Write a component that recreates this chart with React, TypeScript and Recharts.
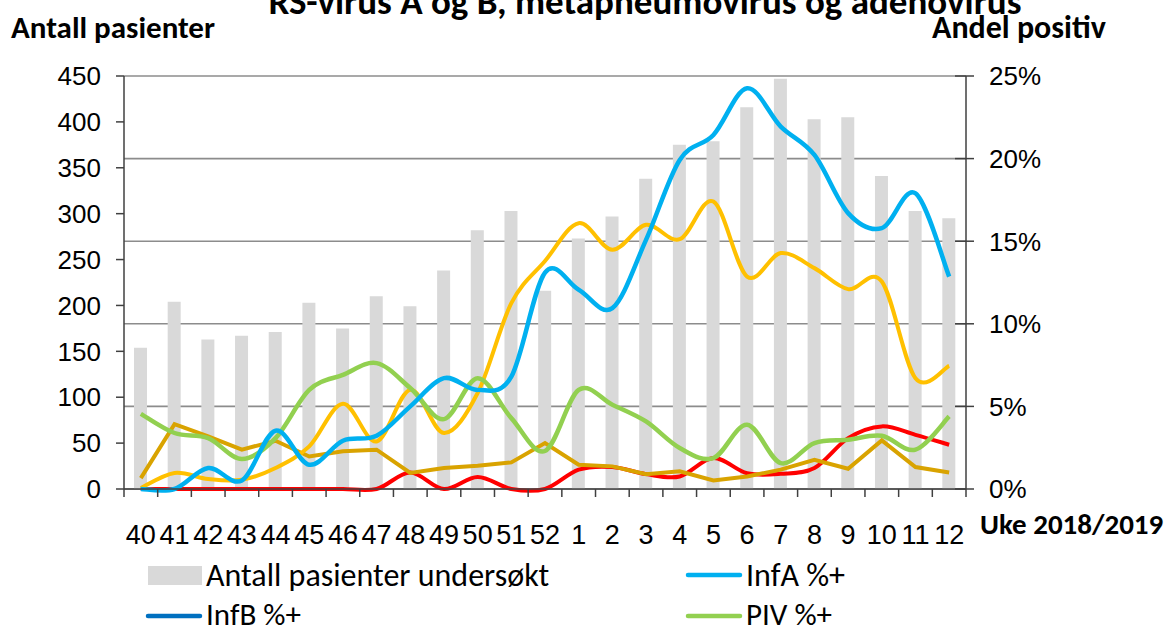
import React from "react";
import { ComposedChart, Bar, Line, XAxis, YAxis, CartesianGrid } from "recharts";

const weeks = ["40", "41", "42", "43", "44", "45", "46", "47", "48", "49", "50", "51", "52", "1", "2", "3", "4", "5", "6", "7", "8", "9", "10", "11", "12"];
const patients = [154, 204, 163, 167, 171, 203, 175, 210, 199, 238, 282, 303, 216, 273, 297, 338, 375, 379, 416, 447, 403, 405, 341, 303, 295];
const infA = [0, 0, 1.27, 0.52, 3.53, 1.47, 2.92, 3.22, 5.0, 6.71, 6.0, 6.8, 13.1, 12.06, 10.95, 15.08, 19.92, 21.43, 24.26, 21.94, 20.22, 16.7, 15.79, 17.9, 12.86];
const infB = [0, 0, 0, null, null, null, null, null, null, null, null, null, null, null, null, null, null, null, null, null, null, null, null, null, null];
const piv = [4.55, 3.39, 3.08, 1.81, 3.08, 6.0, 6.91, 7.62, 6.11, 4.23, 6.71, 4.29, 2.3, 6.0, 5.1, 4.09, 2.48, 1.87, 3.89, 1.57, 2.78, 2.98, 3.22, 2.38, 4.39];
const adeno = [0, 0, 0, 0, 0, 0, 0, 0, 1.0, 0, 0.73, 0, 0, 1.17, 1.33, 0.9, 0.76, 1.87, 0.95, 0.92, 1.27, 3.08, 3.79, 3.28, 2.68];
const rsv = [0.06, 0.97, 0.6, 0.56, 1.27, 2.58, 5.16, 2.88, 6.0, 3.39, 5.81, 11.25, 13.8, 16.09, 14.48, 15.99, 15.12, 17.4, 12.86, 14.28, 13.37, 12.1, 12.56, 6.71, 7.46];
const hmpv = [0.66, 3.93, 3.18, 2.38, 2.92, 1.97, 2.28, 2.38, 0.97, 1.27, 1.41, 1.61, 2.78, 1.47, 1.37, 0.9, 1.07, 0.52, 0.76, 1.17, 1.77, 1.23, 2.94, 1.33, 1.0];

const leftTicks = [0, 50, 100, 150, 200, 250, 300, 350, 400, 450];
const rightTicks = [0, 5, 10, 15, 20, 25];

const data = weeks.map((w, i) => ({
  week: w,
  patients: patients[i],
  infA: infA[i],
  infB: infB[i],
  piv: piv[i],
  adeno: adeno[i],
  rsv: rsv[i],
  hmpv: hmpv[i],
}));

// Excel-style smoothed line (Catmull-Rom through the points)
const excelSmooth = (context: any) => {
  let pts: number[][] = [];
  return {
    areaStart() {},
    areaEnd() {},
    lineStart() {
      pts = [];
    },
    point(x: number, y: number) {
      pts.push([+x, +y]);
    },
    lineEnd() {
      if (!pts.length) return;
      context.moveTo(pts[0][0], pts[0][1]);
      for (let i = 0; i < pts.length - 1; i++) {
        const p0 = pts[i - 1] || pts[i];
        const p1 = pts[i];
        const p2 = pts[i + 1];
        const p3 = pts[i + 2] || p2;
        context.bezierCurveTo(
          p1[0] + (p2[0] - p0[0]) / 6,
          p1[1] + (p2[1] - p0[1]) / 6,
          p2[0] - (p3[0] - p1[0]) / 6,
          p2[1] - (p3[1] - p1[1]) / 6,
          p2[0],
          p2[1]
        );
      }
    },
  };
};

const AXIS = "#404040";
const ARIAL = "'Liberation Sans', Arial, sans-serif";
const CALIBRI = "Carlito, Lato, sans-serif";
const HALF_BAND = 842 / weeks.length / 2;

function WeekTick({ x, y, payload, index }: any) {
  return (
    <g>
      <line x1={x - HALF_BAND} x2={x - HALF_BAND} y1={y} y2={y + 8} stroke={AXIS} strokeWidth={1.5} />
      {index === weeks.length - 1 && (
        <line x1={x + HALF_BAND} x2={x + HALF_BAND} y1={y} y2={y + 8} stroke={AXIS} strokeWidth={1.5} />
      )}
      <text x={x} y={y + 55} textAnchor="middle" fontFamily={ARIAL} fontSize={27} fill="#000">
        {payload.value}
      </text>
    </g>
  );
}

function PctTick({ x, y, payload }: any) {
  return (
    <g>
      <line x1={x - 11} x2={x + 8} y1={y} y2={y} stroke={AXIS} strokeWidth={1.5} />
      <text x={x + 23} y={y} dy="0.36em" textAnchor="start" fontFamily={ARIAL} fontSize={26} fill="#000">
        {payload.value}%
      </text>
    </g>
  );
}

export default function App() {
  return (
    <div style={{ position: "absolute", left: 0, top: 0, width: 1169, height: 630, background: "#fff" }}>
      <ComposedChart
        width={1169}
        height={630}
        data={data}
        margin={{ top: 76, right: 0, left: 0, bottom: 0 }}
        barSize={13}
      >
        <CartesianGrid yAxisId="right" vertical={false} stroke="#8c8c8c" strokeWidth={1.6} />
        <XAxis
          dataKey="week"
          height={141}
          interval={0}
          tickLine={false}
          tickSize={0}
          tickMargin={0}
          axisLine={{ stroke: AXIS, strokeWidth: 1.5 }}
          tick={<WeekTick />}
        />
        <YAxis
          yAxisId="left"
          width={124}
          domain={[0, 450]}
          ticks={leftTicks}
          interval={0}
          tickSize={8}
          tickMargin={15}
          tickLine={{ stroke: AXIS, strokeWidth: 1.5 }}
          axisLine={{ stroke: AXIS, strokeWidth: 1.5 }}
          tick={{ fill: "#000", fontSize: 26, fontFamily: ARIAL }}
        />
        <YAxis
          yAxisId="right"
          orientation="right"
          width={203}
          domain={[0, 25]}
          ticks={rightTicks}
          interval={0}
          tickSize={0}
          tickMargin={0}
          tickLine={false}
          axisLine={{ stroke: AXIS, strokeWidth: 1.5 }}
          tick={<PctTick />}
        />
        <Bar yAxisId="left" dataKey="patients" name="Antall pasienter undersøkt" fill="#D9D9D9" isAnimationActive={false} />
        <Line yAxisId="right" dataKey="infB" name="InfB %+" type={excelSmooth as any} stroke="#0070C0" strokeWidth={4} dot={false} isAnimationActive={false} />
        <Line yAxisId="right" dataKey="adeno" name="Adenovirus %+" type={excelSmooth as any} stroke="#FF0000" strokeWidth={4} dot={false} isAnimationActive={false} />
        <Line yAxisId="right" dataKey="hmpv" name="hMPV %+" type="linear" stroke="#D9A300" strokeWidth={4} dot={false} isAnimationActive={false} />
        <Line yAxisId="right" dataKey="rsv" name="RSV %+" type={excelSmooth as any} stroke="#FFC000" strokeWidth={4} dot={false} isAnimationActive={false} />
        <Line yAxisId="right" dataKey="piv" name="PIV %+" type={excelSmooth as any} stroke="#92D050" strokeWidth={4.5} dot={false} isAnimationActive={false} />
        <Line yAxisId="right" dataKey="infA" name="InfA %+" type={excelSmooth as any} stroke="#00B0F0" strokeWidth={4.5} dot={false} isAnimationActive={false} />
      </ComposedChart>

      <svg width={1169} height={630} style={{ position: "absolute", left: 0, top: 0, pointerEvents: "none" }}>
        <text x={645} y={14} textAnchor="middle" fontFamily={CALIBRI} fontWeight={700} fontSize={37} fill="#000">
          RS-virus A og B, metapneumovirus og adenovirus
        </text>
        <text x={11} y={38} fontFamily={CALIBRI} fontWeight={700} fontSize={31} fill="#000">
          Antall pasienter
        </text>
        <text x={932} y={38} fontFamily={CALIBRI} fontWeight={700} fontSize={32} fill="#000">
          Andel positiv
        </text>
        <text x={980} y={534} fontFamily={CALIBRI} fontWeight={700} fontSize={29} fill="#000">
          Uke 2018/2019
        </text>

        <rect x={148} y={566} width={54} height={19} fill="#D9D9D9" />
        <text x={206} y={586} fontFamily={CALIBRI} fontSize={32} fill="#000">
          Antall pasienter undersøkt
        </text>
        <line x1={688} x2={740} y1={575} y2={575} stroke="#00B0F0" strokeWidth={4.5} strokeLinecap="round" />
        <text x={746} y={586} fontFamily={CALIBRI} fontSize={32} fill="#000">
          InfA %+
        </text>
        <line x1={148} x2={200} y1={616} y2={616} stroke="#0070C0" strokeWidth={4.5} strokeLinecap="round" />
        <text x={206} y={625} fontFamily={CALIBRI} fontSize={31} fill="#000">
          InfB %+
        </text>
        <line x1={688} x2={740} y1={616} y2={616} stroke="#92D050" strokeWidth={4.5} strokeLinecap="round" />
        <text x={746} y={625} fontFamily={CALIBRI} fontSize={31} fill="#000">
          PIV %+
        </text>
      </svg>
    </div>
  );
}
